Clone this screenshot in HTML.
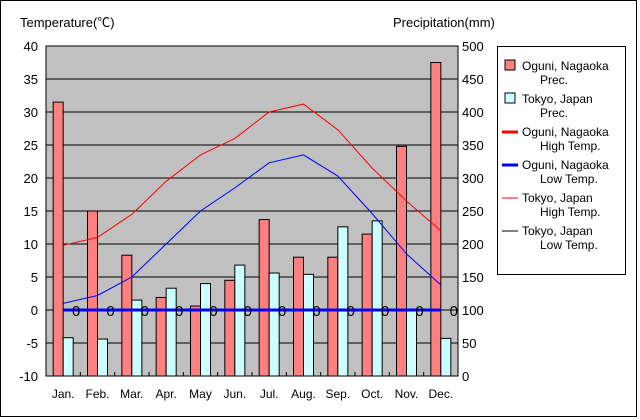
<!DOCTYPE html>
<html><head><meta charset="utf-8"><style>
body{margin:0;background:#fff;}
svg{display:block;font-family:"Liberation Sans","Noto Sans CJK JP",sans-serif;}
</style></head><body>
<svg id="c" width="640" height="420">
<rect x="0.5" y="0.5" width="636" height="416" fill="#fff" stroke="#000"/>
<text x="20" y="27" font-size="13">Temperature(℃)</text>
<text x="393" y="27" font-size="13">Precipitation(mm)</text>
<g id="plot"></g>
<g id="legend">
<rect x="497.5" y="46.5" width="128" height="228" fill="#fff" stroke="#000"/>
</g>
</svg>
<script>
const months=["Jan.","Feb.","Mar.","Apr.","May","Jun.","Jul.","Aug.","Sep.","Oct.","Nov.","Dec."];
const tempTicks=[40,35,30,25,20,15,10,5,0,-5,-10];
const precTicks=[500,450,400,350,300,250,200,150,100,50,0];
const oguniPrec=[415,250,183,119,106,145,237,180,180,215,348,475];
const tokyoPrec=[58,56,115,133,140,168,156,154,226,235,100,57];
const oguniHigh=[9.8,11,14.5,19.5,23.5,26,30,31.2,27.3,21.5,16.5,12];
const oguniLow=[0,0,0,0,0,0,0,0,0,0,0,0];
const tokyoLow=[1,2.2,5,10,15,18.5,22.3,23.5,20.3,14.6,8.5,3.8];
const NS="http://www.w3.org/2000/svg";
const L=46,R=458,T=46,B=376;
const yT=v=>B-(v+10)/50*(B-T);
const yP=v=>B-v/500*(B-T);
const bw=(R-L)/12;
const xC=i=>L+bw*(i+0.5);
const plot=document.getElementById('plot');
function mk(tag,attrs,parent){const e=document.createElementNS(NS,tag);for(const k in attrs)e.setAttribute(k,attrs[k]);(parent||plot).appendChild(e);return e;}
let e=mk('rect',{x:L,y:T,width:R-L,height:B-T,fill:'#c0c0c0'});


tempTicks.forEach((t,i)=>{
 const y=yT(t);
 if(t!==40&&t!==-10){let g=mk('line',{x1:L,x2:R,y1:y,y2:y,stroke:'#000','stroke-width':1});}
 let a=mk('text',{x:L-8,y:y+5,'text-anchor':'end','font-size':13});a.textContent=t;
 
 
 let b=mk('text',{x:R+4,y:yP(precTicks[i])+5,'font-size':13});b.textContent=precTicks[i];
 
 
});
months.forEach((m,i)=>{
 let a=mk('text',{x:xC(i),y:398,'text-anchor':'middle','font-size':12});a.textContent=m;
 
 
 let t=mk('line',{x1:L+bw*(i+1),x2:L+bw*(i+1),y1:B,y2:B-4,stroke:'#000'});
 
 
 let r1=mk('rect',{x:xC(i)-10,y:yP(oguniPrec[i]),width:10,height:B-yP(oguniPrec[i]),fill:'#ff8080',stroke:'#000','stroke-width':1});
 
 
 let r2=mk('rect',{x:xC(i),y:yP(tokyoPrec[i]),width:10,height:B-yP(tokyoPrec[i]),fill:'#ccffff',stroke:'#000','stroke-width':1});
 
 
});
function line(arr,col,w,name){
 let p=mk('polyline',{points:arr.map((v,i)=>xC(i)+','+yT(v)).join(' '),fill:'none',stroke:col,'stroke-width':w});
 
 
}
line(oguniHigh,'#ff0000',1,'line-oguni-high');
line(tokyoLow,'#0000ff',1,'line-tokyo-low');
line(oguniLow,'#0000ff',3,'line-oguni-low');
oguniLow.forEach((v,i)=>{
 let a=mk('text',{x:xC(i)+13,y:yT(v)+6,'text-anchor':'middle','font-size':15});a.textContent='0';
 
 
});
mk('rect',{x:L,y:T,width:R-L,height:B-T,fill:'none',stroke:'#000'});
const lg=document.getElementById('legend');
const items=[["Oguni, Nagaoka","Prec.","bar","#ff8080"],["Tokyo, Japan","Prec.","bar","#ccffff"],["Oguni, Nagaoka","High Temp.","line","#ff0000",3],["Oguni, Nagaoka","Low Temp.","line","#0000ff",3],["Tokyo, Japan","High Temp.","line","#ff0000",1],["Tokyo, Japan","Low Temp.","line","#000000",1]];
items.forEach((it,i)=>{
 const y=66+i*33;
 if(it[2]==='bar'){let r=mk('rect',{x:505,y:y-6,width:10,height:10,fill:it[3],stroke:'#000'},lg);}
 else{let l=mk('line',{x1:502,x2:518,y1:y,y2:y,stroke:it[3],'stroke-width':it[4]},lg);}
 let a=mk('text',{x:522,y:y+4,'font-size':12},lg);a.textContent=it[0];
 
 
 let b=mk('text',{x:540,y:y+18,'font-size':12},lg);b.textContent=it[1];
 
 
});
</script>
</body></html>
